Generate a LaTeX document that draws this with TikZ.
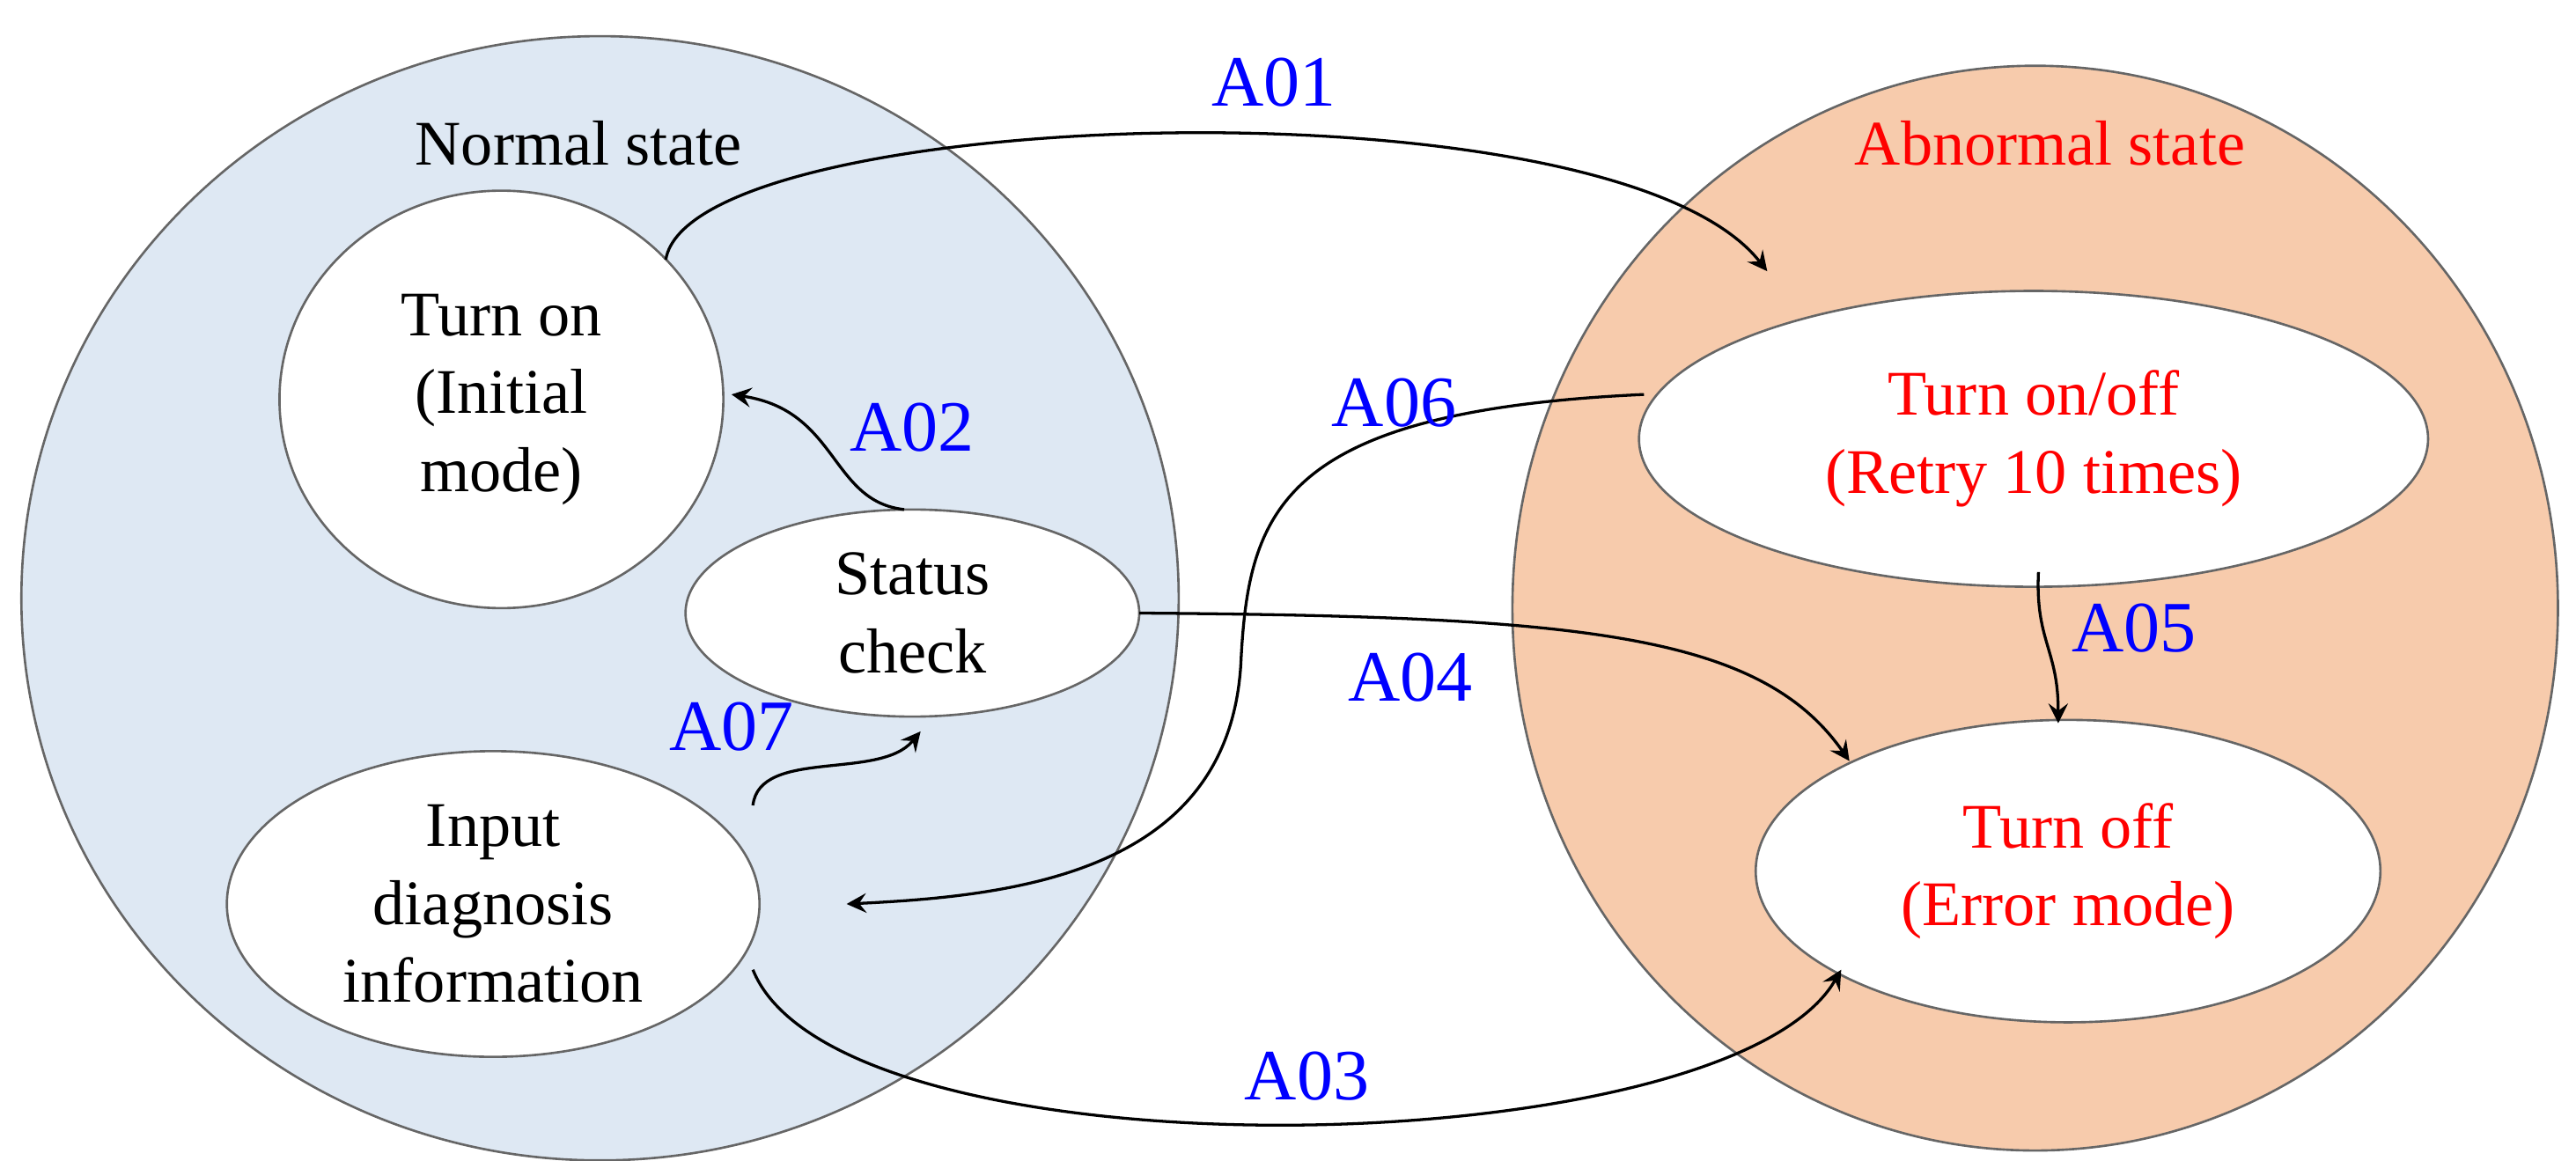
\documentclass[tikz,border=0pt]{standalone}
\usepackage{fontspec}
\setmainfont{Liberation Serif}
\definecolor{nfill}{HTML}{DEE8F3}
\definecolor{afill}{HTML}{F7CBAC}
\begin{document}
\begin{tikzpicture}[x=0.01cm,y=-0.01cm,
  st/.style={draw=gray!80!black,fill=white,line width=0.4pt},
  txt/.style={font=\fontsize{11}{13.5}\selectfont,align=center},
  lab/.style={font=\fontsize{12.5}{14}\selectfont,text=blue},
  arr/.style={->,>=stealth,line width=0.5pt}]
\useasboundingbox (0,0) rectangle (1567,706);
\fill[nfill,draw=gray!80!black] (365,364) ellipse [x radius=352,y radius=342];
\fill[afill,draw=gray!80!black] (1238,370) ellipse [x radius=318,y radius=330];
\node[txt] (nl) at (352,87) {Normal state};
\node[txt,text=red] (al) at (1247,87) {Abnormal state};
\draw[st] (305,243) ellipse [x radius=135,y radius=127];
\node[txt] (on) at (305,243) {Turn on\\(Initial\\mode)};
\draw[st] (555,373) ellipse [x radius=138,y radius=63];
\node[txt] (sc) at (555,373) {Status\\check};
\draw[st] (300,550) ellipse [x radius=162,y radius=93];
\node[txt] (in) at (300,550) {Input\\diagnosis\\information};
\draw[st] (1237,267) ellipse [x radius=240,y radius=90];
\node[txt,text=red] (oo) at (1237,267) {Turn on/off\\(Retry 10 times)};
\draw[st] (1258,530) ellipse [x radius=190,y radius=92];
\node[txt,text=red] (of) at (1258,530) {Turn off\\(Error mode)};
\coordinate (a1s) at (405,158); \coordinate (a1e) at (1075,165);
\draw[arr] (a1s) .. controls (420,65) and (980,45) .. (a1e);
\coordinate (a2s) at (550,310); \coordinate (a2e) at (445,240);
\draw[arr] (a2s) .. controls (505,305) and (510,250) .. (a2e);
\coordinate (a6s) at (1000,240); \coordinate (a6m) at (755,400); \coordinate (a6e) at (515,550);
\draw[arr] (a6s) .. controls (780,250) and (760,310) .. (a6m) .. controls (750,530) and (620,545) .. (a6e);
\coordinate (a4s) at (693,373); \coordinate (a4e) at (1125,463);
\draw[arr] (a4s) .. controls (960,375) and (1070,385) .. (a4e);
\coordinate (a5s) at (1240,348); \coordinate (a5e) at (1252,440);
\draw[arr] (a5s) .. controls (1238,390) and (1252,395) .. (a5e);
\coordinate (a7s) at (458,490); \coordinate (a7e) at (560,445);
\draw[arr] (a7s) .. controls (462,455) and (535,475) .. (a7e);
\coordinate (a3s) at (458,590); \coordinate (a3e) at (1120,590);
\draw[arr] (a3s) .. controls (510,720) and (1050,710) .. (a3e);
\node[lab] (l1) at (775,50) {A01};
\node[lab] (l2) at (555,260) {A02};
\node[lab] (l6) at (848,245) {A06};
\node[lab] (l5) at (1298,382) {A05};
\node[lab] (l4) at (858,412) {A04};
\node[lab] (l7) at (445,442) {A07};
\node[lab] (l3) at (795,655) {A03};
\end{tikzpicture}
\end{document}
